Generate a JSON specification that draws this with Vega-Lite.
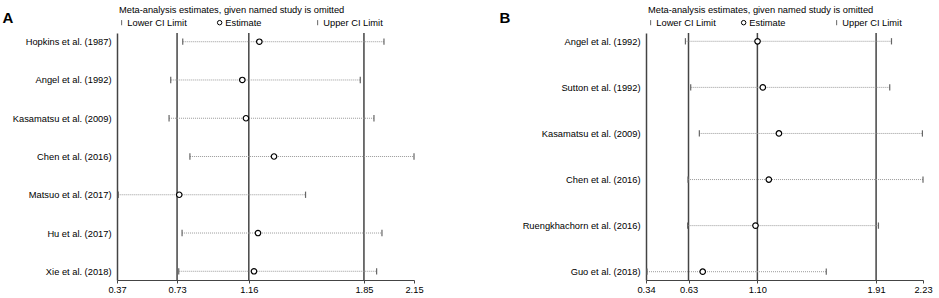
{
  "$schema": "https://vega.github.io/schema/vega-lite/v6.json",
  "autosize": "none",
  "padding": {"left": 117, "top": 33, "right": 822, "bottom": 265},
  "background": "white",
  "config": {
    "view": {"stroke": null},
    "font": "Liberation Sans",
    "title": {"font": "Liberation Sans"},
    "axis": {"labelFont": "Liberation Sans", "titleFont": "Liberation Sans"},
    "legend": {"labelFont": "Liberation Sans"}
  },
  "datasets": {
    "studiesA": [
      {"study": "Hopkins et al. (1987)", "lower": 0.764, "estimate": 1.223, "upper": 1.97},
      {"study": "Angel et al. (1992)", "lower": 0.692, "estimate": 1.121, "upper": 1.828},
      {"study": "Kasamatsu et al. (2009)", "lower": 0.682, "estimate": 1.143, "upper": 1.91},
      {"study": "Chen et al. (2016)", "lower": 0.807, "estimate": 1.311, "upper": 2.15},
      {"study": "Matsuo et al. (2017)", "lower": 0.378, "estimate": 0.743, "upper": 1.5},
      {"study": "Hu et al. (2017)", "lower": 0.76, "estimate": 1.215, "upper": 1.958},
      {"study": "Xie et al. (2018)", "lower": 0.74, "estimate": 1.191, "upper": 1.926}
    ],
    "refsA": [{"value": 0.73}, {"value": 1.16}, {"value": 1.85}],
    "studiesB": [
      {"study": "Angel et al. (1992)", "lower": 0.609, "estimate": 1.101, "upper": 2.015},
      {"study": "Sutton et al. (1992)", "lower": 0.645, "estimate": 1.137, "upper": 2.003},
      {"study": "Kasamatsu et al. (2009)", "lower": 0.704, "estimate": 1.247, "upper": 2.226},
      {"study": "Chen et al. (2016)", "lower": 0.627, "estimate": 1.178, "upper": 2.23},
      {"study": "Ruengkhachorn et al. (2016)", "lower": 0.624, "estimate": 1.087, "upper": 1.926},
      {"study": "Guo et al. (2018)", "lower": 0.347, "estimate": 0.727, "upper": 1.57}
    ],
    "refsB": [{"value": 0.63}, {"value": 1.1}, {"value": 1.91}]
  },
  "bounds": "flush",
  "spacing": 232,
  "resolve": {
    "scale": {"x": "independent", "y": "independent", "shape": "independent", "stroke": "independent"},
    "legend": {"shape": "independent", "stroke": "independent"}
  },
  "hconcat": [
    {
      "width": 297,
      "height": 247,
      "title": {"text": "Meta-analysis estimates, given named study is omitted", "anchor": "start", "frame": "group", "fontSize": 9.3, "fontWeight": "normal", "color": "#000", "offset": -5.5, "dx": 2},
      "layer": [
        {
          "data": {"name": "refsA"},
          "mark": {"type": "rule", "color": "#444", "strokeWidth": 1.5},
          "encoding": {
            "x": {"field": "value", "type": "quantitative", "scale": {"domain": [0.37, 2.15], "nice": false, "zero": false}}
          }
        },
        {
          "data": {"name": "studiesA"},
          "mark": {"type": "rule", "color": "#999", "strokeWidth": 1, "strokeDash": [1, 1]},
          "encoding": {
            "y": {"field": "study", "type": "nominal", "sort": null, "scale": {"type": "point", "padding": 0.228},
              "axis": {"title": "A", "titleAngle": 0, "titleFontSize": 15, "titleFontWeight": "bold", "titleColor": "#000", "titleX": -115, "titleY": -11, "titleAlign": "left", "titleBaseline": "alphabetic",
                "domainColor": "#444", "domainWidth": 1.5, "ticks": false, "tickSize": 0, "labelPadding": 6, "labelFontSize": 9.3, "labelColor": "#000", "labelLimit": 300}},
            "x": {"field": "lower", "type": "quantitative",
              "axis": {"title": null, "values": [0.37, 0.73, 1.16, 1.85, 2.15], "format": ".2f", "grid": false, "tickSize": 3, "tickColor": "#444", "domainColor": "#444", "labelPadding": 2, "labelFontSize": 9.3, "labelColor": "#000", "labelFlush": false, "labelOverlap": false}},
            "x2": {"field": "upper"}
          }
        },
        {
          "data": {"name": "studiesA"},
          "transform": [{"fold": ["lower", "estimate", "upper"], "as": ["kind", "val"]}],
          "mark": {"type": "point", "filled": false, "fill": "white", "fillOpacity": 1, "opacity": 1, "size": 30, "strokeWidth": 1.2},
          "encoding": {
            "y": {"field": "study", "type": "nominal", "sort": null},
            "x": {"field": "val", "type": "quantitative"},
            "shape": {"field": "kind", "type": "nominal", "scale": {"domain": ["lower", "estimate", "upper"], "range": ["M0,-1.15L0,1.15", "circle", "M0,-1.15L0,1.15"]},
              "legend": {"orient": "top", "direction": "horizontal", "title": null, "offset": 5, "gridAlign": "all", "columnPadding": 28, "symbolSize": 20, "symbolStrokeWidth": 1, "labelFontSize": 9.3, "labelOffset": 1, "labelColor": "#000", "padding": 0,
                "labelExpr": "datum.label == 'lower' ? 'Lower CI Limit' : datum.label == 'estimate' ? 'Estimate' : 'Upper CI Limit'"}},
            "stroke": {"field": "kind", "type": "nominal", "scale": {"domain": ["lower", "estimate", "upper"], "range": ["#666", "#000", "#666"]},
              "legend": {"orient": "top", "direction": "horizontal", "title": null, "offset": 5, "gridAlign": "all", "columnPadding": 28, "symbolSize": 20, "symbolStrokeWidth": 1, "labelFontSize": 9.3, "labelOffset": 1, "labelColor": "#000", "padding": 0,
                "labelExpr": "datum.label == 'lower' ? 'Lower CI Limit' : datum.label == 'estimate' ? 'Estimate' : 'Upper CI Limit'"}}
          }
        }
      ]
    },
    {
      "width": 277,
      "height": 247,
      "title": {"text": "Meta-analysis estimates, given named study is omitted", "anchor": "start", "frame": "group", "fontSize": 9.3, "fontWeight": "normal", "color": "#000", "offset": -5.5, "dx": 2},
      "layer": [
        {
          "data": {"name": "refsB"},
          "mark": {"type": "rule", "color": "#444", "strokeWidth": 1.5},
          "encoding": {
            "x": {"field": "value", "type": "quantitative", "scale": {"domain": [0.34, 2.23], "nice": false, "zero": false}}
          }
        },
        {
          "data": {"name": "studiesB"},
          "mark": {"type": "rule", "color": "#999", "strokeWidth": 1, "strokeDash": [1, 1]},
          "encoding": {
            "y": {"field": "study", "type": "nominal", "sort": null, "scale": {"type": "point", "padding": 0.18},
              "axis": {"title": "B", "titleAngle": 0, "titleFontSize": 15, "titleFontWeight": "bold", "titleColor": "#000", "titleX": -147, "titleY": -11, "titleAlign": "left", "titleBaseline": "alphabetic",
                "domainColor": "#444", "domainWidth": 1.5, "ticks": false, "tickSize": 0, "labelPadding": 6, "labelFontSize": 9.3, "labelColor": "#000", "labelLimit": 300}},
            "x": {"field": "lower", "type": "quantitative",
              "axis": {"title": null, "values": [0.34, 0.63, 1.1, 1.91, 2.23], "format": ".2f", "grid": false, "tickSize": 3, "tickColor": "#444", "domainColor": "#444", "labelPadding": 2, "labelFontSize": 9.3, "labelColor": "#000", "labelFlush": false, "labelOverlap": false}},
            "x2": {"field": "upper"}
          }
        },
        {
          "data": {"name": "studiesB"},
          "transform": [{"fold": ["lower", "estimate", "upper"], "as": ["kind", "val"]}],
          "mark": {"type": "point", "filled": false, "fill": "white", "fillOpacity": 1, "opacity": 1, "size": 30, "strokeWidth": 1.2},
          "encoding": {
            "y": {"field": "study", "type": "nominal", "sort": null},
            "x": {"field": "val", "type": "quantitative"},
            "shape": {"field": "kind", "type": "nominal", "scale": {"domain": ["lower", "estimate", "upper"], "range": ["M0,-1.15L0,1.15", "circle", "M0,-1.15L0,1.15"]},
              "legend": {"orient": "top", "direction": "horizontal", "title": null, "offset": 5, "gridAlign": "all", "columnPadding": 23, "symbolSize": 20, "symbolStrokeWidth": 1, "labelFontSize": 9.3, "labelOffset": 1, "labelColor": "#000", "padding": 0,
                "labelExpr": "datum.label == 'lower' ? 'Lower CI Limit' : datum.label == 'estimate' ? 'Estimate' : 'Upper CI Limit'"}},
            "stroke": {"field": "kind", "type": "nominal", "scale": {"domain": ["lower", "estimate", "upper"], "range": ["#666", "#000", "#666"]},
              "legend": {"orient": "top", "direction": "horizontal", "title": null, "offset": 5, "gridAlign": "all", "columnPadding": 23, "symbolSize": 20, "symbolStrokeWidth": 1, "labelFontSize": 9.3, "labelOffset": 1, "labelColor": "#000", "padding": 0,
                "labelExpr": "datum.label == 'lower' ? 'Lower CI Limit' : datum.label == 'estimate' ? 'Estimate' : 'Upper CI Limit'"}}
          }
        }
      ]
    }
  ]
}
